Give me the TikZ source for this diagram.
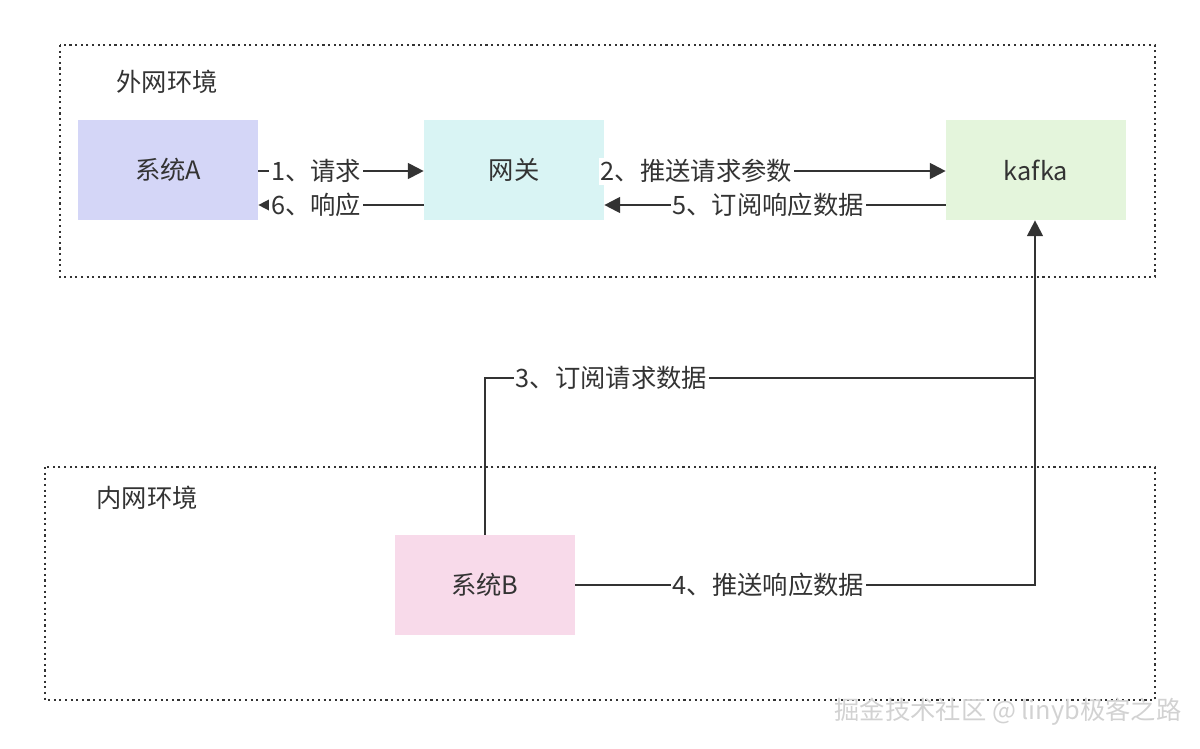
\documentclass[tikz,border=0pt]{standalone}
\usepackage{fontspec}
\setmainfont{Noto Sans CJK SC}
\usetikzlibrary{arrows.meta}
\definecolor{lineC}{HTML}{333333}
\definecolor{sysA}{HTML}{D4D6F7}
\definecolor{gate}{HTML}{D9F4F4}
\definecolor{kaf}{HTML}{E4F5DC}
\definecolor{sysB}{HTML}{F8DAEA}
\tikzset{
  zone/.style={draw=lineC, dotted, line width=1.2pt},
  box/.style={draw=none, minimum width=3.6cm, minimum height=2cm, font=\Large, text=lineC},
  conn/.style={draw=lineC, line width=1.2pt},
  arr/.style={conn, -{Triangle[length=9pt, width=9pt]}},
  lbl/.style={fill=white, inner sep=1pt, font=\Large, text=lineC}
}
\begin{document}
\begin{tikzpicture}[x=0.02cm, y=-0.02cm]
  \useasboundingbox (0,0) rectangle (1200,748);
  % zones
  \draw[zone] (60,45) rectangle (1155,277);
  \draw[zone] (45,467) rectangle (1155,700);
  \node[font=\Large, text=lineC] (outer) at (167,82) {外网环境};
  \node[font=\Large, text=lineC] (inner) at (147,498) {内网环境};
  % systems
  \node[box, fill=sysA] (a) at (168,170) {系统A};
  \node[box, fill=gate] (gw) at (514,170) {网关};
  \node[box, fill=kaf] (kafka) at (1036,170) {kafka};
  \node[box, fill=sysB] (b) at (485,585) {系统B};
  \coordinate (turn3) at (485,378);
  \coordinate (join) at (1035,378);
  \coordinate (turn4) at (1035,585);
  % flows
  \draw[arr] (a.east |- 0,171) -- node[lbl, pos=0.35] {1、请求} (gw.west |- 0,171);
  \draw[arr] (gw.west |- 0,205) -- node[lbl, pos=0.65] {6、响应} (a.east |- 0,205);
  \draw[arr] (gw.east |- 0,171) -- node[lbl, pos=0.27] {2、推送请求参数} (kafka.west |- 0,171);
  \draw[arr] (kafka.west |- 0,205) -- node[lbl, pos=0.52] {5、订阅响应数据} (gw.east |- 0,205);
  \draw[conn] (b.north) -- (turn3) -- node[lbl, pos=0.23] {3、订阅请求数据} (join);
  \draw[arr] (join) -- (kafka.south -| join);
  \draw[conn] (b.east) -- node[lbl, pos=0.42] {4、推送响应数据} (turn4) -- (join);
  \node[font=\Large, text=gray!35] (mark) at (1008,712) {掘金技术社区 @ linyb极客之路};
\end{tikzpicture}
\end{document}
